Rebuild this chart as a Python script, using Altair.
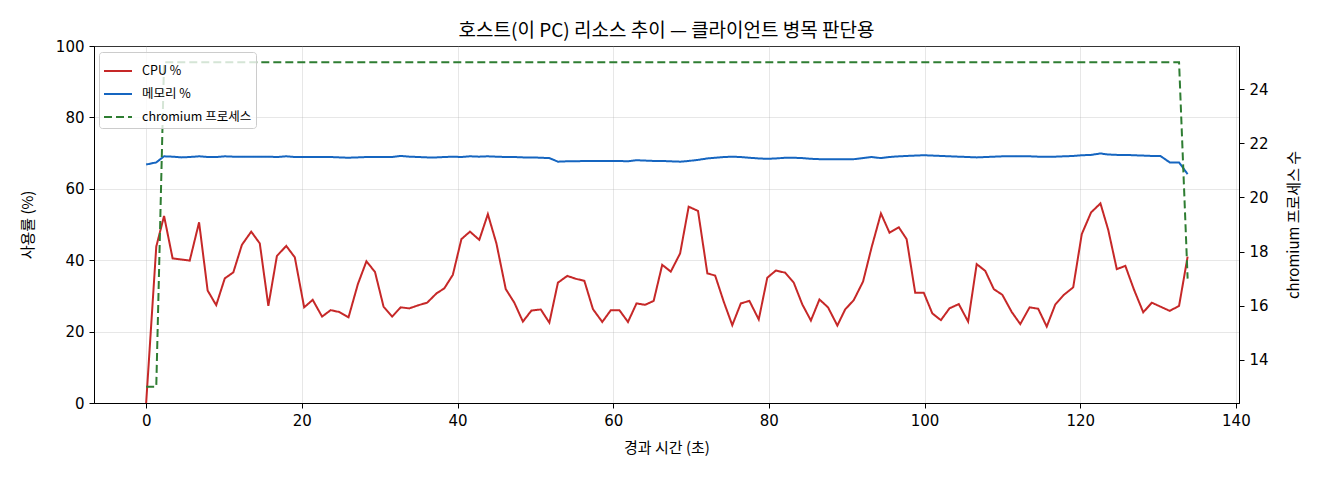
"""
Host (this PC) resource trend: CPU %, memory % and chromium process count.
"""
import pandas as pd
import altair as alt

# Sample times in seconds since the run started.
time_s = [
    0.0, 1.3, 2.3, 3.4, 4.5, 5.6, 6.8, 7.9, 9.0, 10.1,
    11.2, 12.3, 13.5, 14.6, 15.7, 16.8, 18.0, 19.1, 20.3, 21.4,
    22.6, 23.7, 24.8, 26.0, 27.2, 28.3, 29.4, 30.5, 31.6, 32.7,
    33.8, 35.0, 36.1, 37.3, 38.3, 39.4, 40.5, 41.6, 42.8, 43.9,
    45.0, 46.2, 47.3, 48.4, 49.5, 50.7, 51.8, 52.9, 54.1, 55.2,
    56.3, 57.4, 58.6, 59.7, 60.8, 61.9, 63.0, 64.1, 65.2, 66.3,
    67.4, 68.6, 69.7, 70.9, 72.1, 73.1, 74.2, 75.3, 76.4, 77.5,
    78.7, 79.8, 80.9, 82.1, 83.2, 84.3, 85.4, 86.5, 87.6, 88.8,
    89.8, 90.9, 92.1, 93.2, 94.4, 95.5, 96.7, 97.7, 98.8, 99.9,
    101.0, 102.1, 103.2, 104.4, 105.6, 106.7, 107.8, 108.9, 110.0, 111.2,
    112.3, 113.5, 114.6, 115.7, 116.8, 117.9, 119.1, 120.2, 121.4, 122.6,
    123.6, 124.7, 125.8, 126.9, 128.1, 129.2, 130.3, 131.5, 132.7, 133.8,
]

# CPU usage (%).
cpu_pct = [
    0.0, 43.8, 52.4, 40.5, 40.2, 39.9, 50.6, 31.5, 27.4, 34.9,
    36.6, 44.3, 48.0, 44.7, 27.2, 41.2, 44.0, 40.8, 26.8, 28.9,
    24.2, 26.0, 25.5, 24.0, 33.3, 39.7, 36.7, 27.0, 24.2, 26.8,
    26.5, 27.4, 28.1, 30.7, 32.1, 35.9, 45.9, 48.0, 45.7, 52.9,
    44.7, 31.9, 28.1, 22.8, 25.9, 26.2, 22.5, 33.7, 35.6, 34.8,
    34.2, 26.3, 22.7, 26.0, 26.0, 22.7, 27.9, 27.5, 28.6, 38.7,
    36.8, 41.9, 55.0, 53.8, 36.3, 35.7, 28.4, 21.8, 27.9, 28.6,
    23.4, 35.1, 37.1, 36.5, 33.7, 27.6, 23.1, 29.0, 26.8, 21.7,
    26.2, 28.8, 34.0, 43.6, 53.1, 47.7, 49.2, 45.9, 30.9, 30.9,
    25.1, 23.2, 26.5, 27.7, 22.8, 38.9, 37.0, 31.9, 30.3, 25.5,
    22.1, 26.8, 26.4, 21.4, 27.6, 30.3, 32.4, 47.3, 53.4, 55.9,
    48.5, 37.5, 38.4, 31.8, 25.4, 28.1, 27.0, 25.8, 27.2, 41.0,
]

# Memory usage (%).
mem_pct = [
    66.8, 67.4, 69.1, 69.0, 68.8, 68.9, 69.1, 68.9, 68.9, 69.1,
    69.0, 69.0, 69.0, 69.0, 69.0, 68.9, 69.1, 68.9, 68.9, 68.9,
    68.9, 68.9, 68.8, 68.7, 68.8, 68.9, 68.9, 68.9, 68.9, 69.2,
    69.0, 68.9, 68.8, 68.8, 68.9, 69.0, 68.9, 69.1, 69.0, 69.1,
    69.0, 68.9, 68.9, 68.8, 68.8, 68.7, 68.6, 67.6, 67.7, 67.7,
    67.8, 67.8, 67.8, 67.8, 67.8, 67.7, 68.0, 67.9, 67.8, 67.8,
    67.7, 67.6, 67.8, 68.1, 68.5, 68.7, 68.9, 69.0, 68.9, 68.7,
    68.5, 68.4, 68.5, 68.7, 68.7, 68.6, 68.4, 68.3, 68.3, 68.3,
    68.3, 68.3, 68.6, 68.9, 68.6, 68.9, 69.1, 69.2, 69.3, 69.4,
    69.3, 69.2, 69.1, 69.0, 68.9, 68.8, 68.9, 69.0, 69.1, 69.1,
    69.1, 69.1, 69.0, 69.0, 69.0, 69.1, 69.2, 69.4, 69.5, 69.9,
    69.6, 69.5, 69.5, 69.4, 69.3, 69.2, 69.2, 67.4, 67.4, 64.1,
]

# Number of chromium processes.
chromium_count = [
    13, 13, 25, 25, 25, 25, 25, 25, 25, 25,
    25, 25, 25, 25, 25, 25, 25, 25, 25, 25,
    25, 25, 25, 25, 25, 25, 25, 25, 25, 25,
    25, 25, 25, 25, 25, 25, 25, 25, 25, 25,
    25, 25, 25, 25, 25, 25, 25, 25, 25, 25,
    25, 25, 25, 25, 25, 25, 25, 25, 25, 25,
    25, 25, 25, 25, 25, 25, 25, 25, 25, 25,
    25, 25, 25, 25, 25, 25, 25, 25, 25, 25,
    25, 25, 25, 25, 25, 25, 25, 25, 25, 25,
    25, 25, 25, 25, 25, 25, 25, 25, 25, 25,
    25, 25, 25, 25, 25, 25, 25, 25, 25, 25,
    25, 25, 25, 25, 25, 25, 25, 25, 25, 17,
]

series_names = ["CPU %", "메모리 %", "chromium 프로세스"]
series_colors = ["#c62828", "#1565c0", "#2e7d32"]
series_dashes = [[1, 0], [1, 0], [8, 4]]

x_ticks = [0, 20, 40, 60, 80, 100, 120, 140]
left_ticks = [0, 20, 40, 60, 80, 100]
right_ticks = [14, 16, 18, 20, 22, 24]

FONT = "Noto Sans CJK KR"
NUM_FONT = "DejaVu Sans"
W, H = 1145, 357

# Long-form tables for the two y scales.
usageData = pd.concat([
    pd.DataFrame({"t": time_s, "value": cpu_pct, "series": series_names[0]}),
    pd.DataFrame({"t": time_s, "value": mem_pct, "series": series_names[1]}),
])
procData = pd.DataFrame({"t": time_s, "count": chromium_count, "series": series_names[2]})

# One merged legend for color + dash.
legend = alt.Legend(
    title=None, orient="none", legendX=5, legendY=6,
    padding=4, fillColor="rgba(255,255,255,0.8)", strokeColor="#cccccc",
    cornerRadius=3, labelFont=FONT, labelFontSize=12.5, labelColor="black",
    symbolType="stroke", symbolStrokeWidth=2, symbolSize=784,
    labelOffset=9, rowPadding=1,
)
xEnc = alt.X(
    "t:Q",
    scale=alt.Scale(domain=[-6.7, 140.4], nice=False, zero=False),
    axis=alt.Axis(values=x_ticks, title="경과 시간 (초)", titleX=W / 2, titleY=37),
)
colorEnc = alt.Color("series:N", scale=alt.Scale(domain=series_names, range=series_colors), legend=legend)
dashEnc = alt.StrokeDash("series:N", scale=alt.Scale(domain=series_names, range=series_dashes), legend=legend)

usage = alt.Chart(usageData).mark_line(strokeWidth=2).encode(
    x=xEnc,
    y=alt.Y(
        "value:Q",
        scale=alt.Scale(domain=[0, 100], nice=False),
        axis=alt.Axis(values=left_ticks, title="사용률 (%)", titleX=-59, titleY=H / 2),
    ),
    color=colorEnc,
    strokeDash=dashEnc,
)

procs = alt.Chart(procData).mark_line(strokeWidth=2).encode(
    x=xEnc,
    y=alt.Y(
        "count:Q",
        scale=alt.Scale(domain=[12.4, 25.6], nice=False, zero=False),
        axis=alt.Axis(
            orient="right", values=right_ticks, grid=False,
            title="chromium 프로세스 수", titleAngle=270, titleBaseline="top",
            titleX=47, titleY=H / 2,
        ),
    ),
    color=colorEnc,
    strokeDash=dashEnc,
)

chart = alt.layer(usage, procs).resolve_scale(
    y="independent"
).properties(
    width=W,
    height=H,
    autosize="none",
    padding={"left": 86, "top": 38, "right": 70, "bottom": 60},
    title=alt.TitleParams(
        "호스트(이 PC) 리소스 추이 — 클라이언트 병목 판단용",
        font=FONT, fontSize=19, fontWeight="normal", color="black",
        offset=10, dy=12,
    ),
).configure_view(
    stroke="black", strokeWidth=1
).configure_axis(
    labelFont=NUM_FONT, titleFont=FONT, labelFontSize=15, titleFontSize=15,
    titleFontWeight="normal", labelColor="black", titleColor="black",
    domainColor="black", tickColor="black", tickSize=5, labelPadding=5,
    gridColor="#b0b0b0", gridOpacity=0.3,
)

chart.save("out.html", embed_options={"renderer": "svg", "actions": False})
